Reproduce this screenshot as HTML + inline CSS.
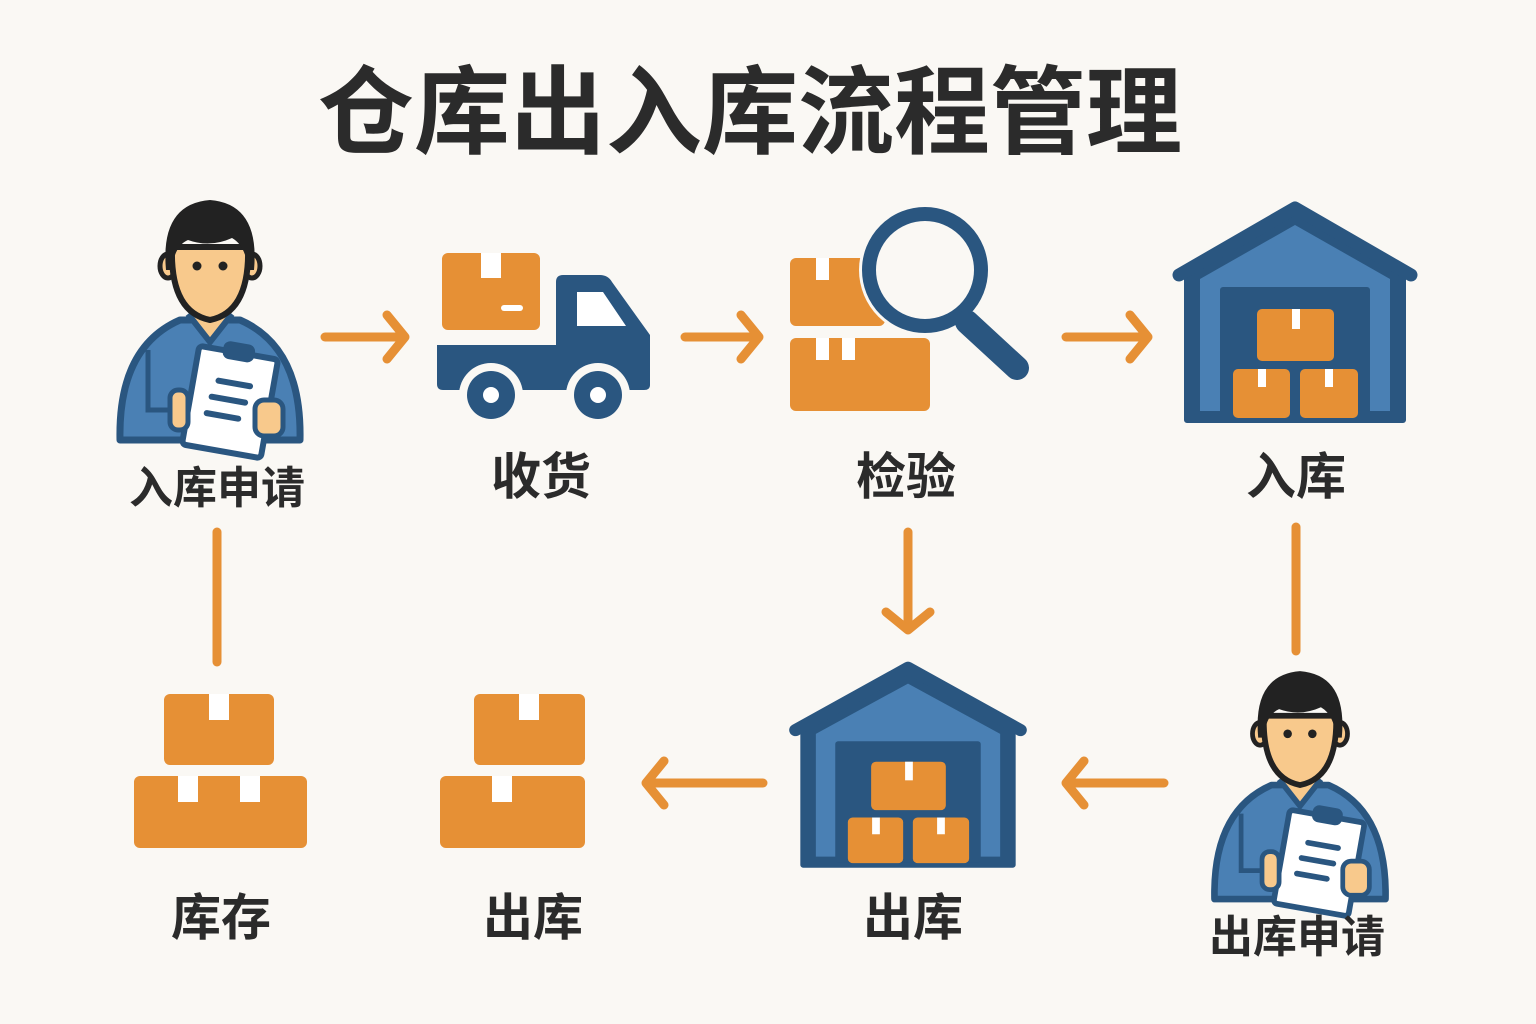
<!DOCTYPE html>
<html><head><meta charset="utf-8"><style>
html,body{margin:0;padding:0;background:#faf8f4;}
svg{display:block}
text{font-family:"Liberation Sans","Noto Sans CJK SC",sans-serif;font-weight:bold;fill:#2b2b2b;text-anchor:middle}
</style></head><body>
<svg width="1536" height="1024" viewBox="0 0 1536 1024" xmlns="http://www.w3.org/2000/svg">
<defs>
<g id="wh">
  <path d="M-108,65 L0,3 L108,65 L108,215 L-108,215 Z" fill="#2a5680" stroke="#2a5680" stroke-width="6" stroke-linejoin="round"/>
  <polyline points="-116,70 0,3 116,70" fill="none" stroke="#2a5680" stroke-width="13" stroke-linecap="round" stroke-linejoin="round"/>
  <path d="M-95,74 L0,20 L95,74 L95,206 L-95,206 Z" fill="#4a80b4"/>
  <rect x="-75" y="82" width="150" height="130" rx="3" fill="#2a5680"/>
  <rect x="-38" y="104" width="77" height="52" rx="5" fill="#e69035"/>
  <rect x="-3" y="104" width="8" height="20" fill="#fff"/>
  <rect x="-62" y="164" width="57" height="49" rx="5" fill="#e69035"/>
  <rect x="-37" y="164" width="8" height="18" fill="#fff"/>
  <rect x="5" y="164" width="58" height="49" rx="5" fill="#e69035"/>
  <rect x="30" y="164" width="8" height="18" fill="#fff"/>
</g>
<g id="person">
  <path d="M-90,178 Q-92,85 -30,58 L30,58 Q92,85 90,178 Z" fill="#4a80b4" stroke="#2a5680" stroke-width="7" stroke-linejoin="round"/>
  <path d="M-22,52 L0,80 L22,52" fill="#f8c98c" stroke="#2a5680" stroke-width="6"/>
  <path d="M-62,88 L-62,148 L-30,148" fill="none" stroke="#2a5680" stroke-width="5"/>
  <ellipse cx="-42" cy="4" rx="8" ry="12" fill="#f8c98c" stroke="#222" stroke-width="5"/>
  <ellipse cx="42" cy="4" rx="8" ry="12" fill="#f8c98c" stroke="#222" stroke-width="5"/>
  <path d="M-38,-15 Q-40,50 0,58 Q40,50 38,-15 Z" fill="#f8c98c" stroke="#222" stroke-width="6"/>
  <path d="M-44,8 Q-50,-58 0,-62 Q50,-58 44,8 L38,8 Q36,-16 22,-24 Q0,-14 -22,-22 Q-36,-16 -38,8 Z" fill="#222"/>
  <circle cx="-13" cy="4" r="4.5" fill="#222"/><circle cx="13" cy="4" r="4.5" fill="#222"/>
  <g transform="translate(20,140) rotate(10)">
    <rect x="-40" y="-50" width="80" height="100" rx="4" fill="#fff" stroke="#2a5680" stroke-width="6"/>
    <rect x="-16" y="-60" width="32" height="18" rx="7" fill="#2a5680"/>
    <rect x="-18" y="-22" width="38" height="6" rx="3" fill="#2a5680"/>
    <rect x="-22" y="-5" width="40" height="6" rx="3" fill="#2a5680"/>
    <rect x="-24" y="12" width="38" height="6" rx="3" fill="#2a5680"/>
  </g>
  <rect x="-40" y="128" width="18" height="40" rx="8" fill="#f8c98c" stroke="#2a5680" stroke-width="5"/>
  <rect x="45" y="138" width="28" height="36" rx="9" fill="#f8c98c" stroke="#2a5680" stroke-width="5"/>
</g>
<g id="ah"><path d="M-18,-22 L0,0 L-18,22" fill="none" stroke="#e69035" stroke-width="9" stroke-linecap="round" stroke-linejoin="round"/></g>
</defs>
<rect width="1536" height="1024" fill="#faf8f4"/>
<text x="750" y="146" font-size="96" fill="#2f2f2f">仓库出入库流程管理</text>

<use href="#person" transform="translate(210,262)"/>
<use href="#person" transform="translate(1300,730) scale(0.95)"/>

<!-- truck -->
<rect x="442" y="253" width="98" height="77" rx="6" fill="#e69035"/>
<rect x="481" y="253" width="20" height="25" fill="#fff"/>
<rect x="501" y="305" width="22" height="6" rx="3" fill="#fff"/>
<path d="M437,345 L556,345 L556,282 Q556,275 563,275 L600,275 Q608,275 612,282 L650,335 L650,385 Q650,390 644,390 L443,390 Q437,390 437,384 Z" fill="#2a5680"/>
<path d="M577,292 L603,292 L626,326 L577,326 Z" fill="#fff"/>
<circle cx="491" cy="395" r="32" fill="#faf8f4"/><circle cx="491" cy="395" r="24" fill="#2a5680"/><circle cx="491" cy="395" r="8" fill="#fff"/>
<circle cx="598" cy="395" r="32" fill="#faf8f4"/><circle cx="598" cy="395" r="24" fill="#2a5680"/><circle cx="598" cy="395" r="8" fill="#fff"/>

<!-- inspection -->
<rect x="790" y="258" width="95" height="68" rx="6" fill="#e69035"/>
<rect x="816" y="258" width="13" height="22" fill="#fff"/>
<rect x="790" y="338" width="140" height="73" rx="6" fill="#e69035"/>
<rect x="816" y="338" width="13" height="22" fill="#fff"/><rect x="842" y="338" width="13" height="22" fill="#fff"/>
<circle cx="925" cy="270" r="66" fill="#faf8f4"/>
<circle cx="925" cy="270" r="56" fill="#faf8f4" stroke="#2a5680" stroke-width="14"/>
<line x1="967" y1="322" x2="1017" y2="368" stroke="#2a5680" stroke-width="24" stroke-linecap="round"/>

<use href="#wh" transform="translate(1295,205)"/>
<use href="#wh" transform="translate(908,665) scale(0.97,0.93)"/>

<!-- bottom boxes -->
<rect x="164" y="694" width="110" height="71" rx="6" fill="#e69035"/>
<rect x="209" y="694" width="20" height="26" fill="#fff"/>
<rect x="134" y="776" width="173" height="72" rx="6" fill="#e69035"/>
<rect x="178" y="776" width="20" height="26" fill="#fff"/><rect x="240" y="776" width="20" height="26" fill="#fff"/>
<rect x="474" y="694" width="111" height="71" rx="6" fill="#e69035"/>
<rect x="519" y="694" width="20" height="26" fill="#fff"/>
<rect x="440" y="776" width="145" height="72" rx="6" fill="#e69035"/>
<rect x="492" y="776" width="20" height="26" fill="#fff"/>

<!-- arrows -->
<g stroke="#e69035" stroke-width="9" stroke-linecap="round" fill="none">
<line x1="325" y1="337" x2="403" y2="337"/>
<line x1="685" y1="337" x2="757" y2="337"/>
<line x1="1066" y1="337" x2="1146" y2="337"/>
<line x1="908" y1="532" x2="908" y2="628"/>
<line x1="763" y1="783" x2="648" y2="783"/>
<line x1="1164" y1="783" x2="1068" y2="783"/>
<line x1="217" y1="532" x2="217" y2="662"/>
<line x1="1296" y1="527" x2="1296" y2="651"/>
</g>
<use href="#ah" transform="translate(405,337)"/>
<use href="#ah" transform="translate(759,337)"/>
<use href="#ah" transform="translate(1148,337)"/>
<use href="#ah" transform="translate(908,630) rotate(90)"/>
<use href="#ah" transform="translate(646,783) rotate(180)"/>
<use href="#ah" transform="translate(1066,783) rotate(180)"/>

<text x="217" y="503" font-size="44">入库申请</text>
<text x="541" y="494" font-size="50">收货</text>
<text x="906" y="494" font-size="50">检验</text>
<text x="1296" y="494" font-size="50">入库</text>
<text x="221" y="935" font-size="50">库存</text>
<text x="533" y="935" font-size="50">出库</text>
<text x="913" y="935" font-size="50">出库</text>
<text x="1297" y="952" font-size="44">出库申请</text>
</svg>
</body></html>
